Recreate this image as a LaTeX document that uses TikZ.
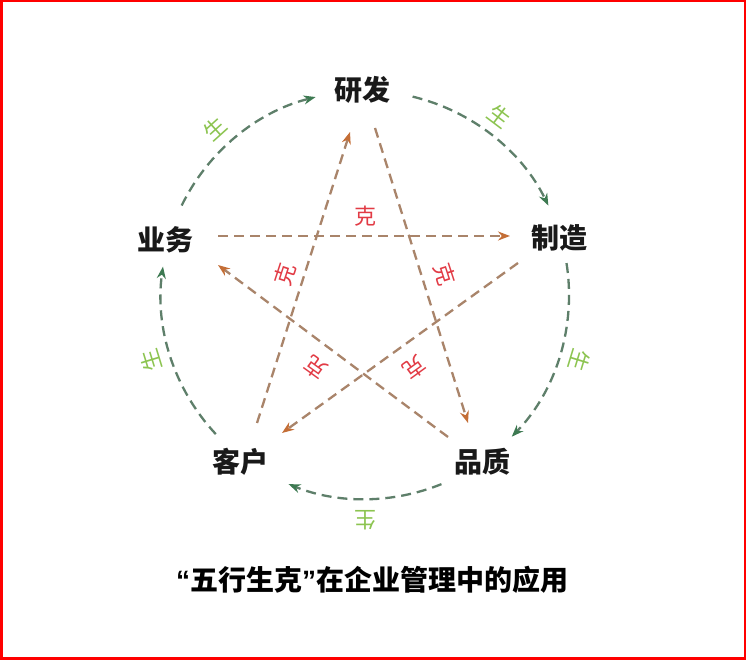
\documentclass[tikz,border=0pt]{standalone}
\usepackage{fontspec}
\setmainfont{Noto Sans CJK SC}
\newfontfamily\latinq{Liberation Sans}
\usetikzlibrary{arrows.meta}
\definecolor{shengline}{HTML}{5E7F6A}
\definecolor{shengtip}{HTML}{3E7A52}
\definecolor{shengtxt}{HTML}{8CC450}
\definecolor{keline}{HTML}{A9846A}
\definecolor{ketip}{HTML}{C46E36}
\definecolor{ketxt}{HTML}{E23B45}
\tikzset{
  lab/.style={font=\fontsize{28}{32}\selectfont\bfseries, inner sep=1pt, text=black!90},
  shengarc/.style={draw=shengline, line width=2.3pt, dash pattern=on 10pt off 6pt,
    -{Stealth[length=12pt,width=9pt,color=shengtip]}},
  keline/.style={draw=keline, line width=2.3pt, dash pattern=on 10pt off 6pt,
    -{Stealth[length=12pt,width=9pt,color=ketip]}},
  shengtxt/.style={font=\fontsize{22}{24}\selectfont, text=shengtxt, inner sep=0pt},
  ketxt/.style={font=\fontsize{22}{24}\selectfont, text=ketxt, inner sep=0pt},
  titletxt/.style={font=\fontsize{28}{32}\selectfont\bfseries, text=black, inner sep=0pt}
}
\begin{document}
\begin{tikzpicture}[x=1pt,y=1pt]
\useasboundingbox (0,0) rectangle (746,660);
\fill[white] (0,0) rectangle (746,660);
\draw[red, line width=2.5pt] (1.25,1.25) rectangle (744.75,658.75);

% centres
\coordinate (C) at (365,365);
\coordinate (K) at (365,360);

% labels
\node[lab] (yf) at (362,570) {研发};
\node[lab] (zz) at (559,422) {制造};
\node[lab] (pz) at (482,198) {品质};
\node[lab] (kh) at (240,198) {客户};
\node[lab] (yw) at (165,420) {业务};

% sheng arcs (clockwise)
\path (C) ++(154:204) coordinate (a1);
\path (C) ++(76.5:204) coordinate (a2);
\path (C) ++(9:204) coordinate (a3);
\path (C) ++(-68:204) coordinate (a4);
\path (C) ++(-137:204) coordinate (a5);
\draw[shengarc] (a1) arc[start angle=154, end angle=104, radius=204];
\draw[shengarc] (a2) arc[start angle=76.5, end angle=26, radius=204];
\draw[shengarc] (a3) arc[start angle=9, end angle=-44, radius=204];
\draw[shengarc] (a4) arc[start angle=-68, end angle=-112, radius=204];
\draw[shengarc] (a5) arc[start angle=-137, end angle=-188, radius=204];

% sheng labels
\node[shengtxt, rotate=42]  (s1) at ([shift={(132:224)}]C) {生};
\node[shengtxt, rotate=-37] (s2) at ([shift={(53:224)}]C) {生};
\node[shengtxt, rotate=-107] (s3) at ([shift={(-17:224)}]C) {生};
\node[shengtxt, rotate=180] (s4) at ([shift={(-90:225)}]C) {生};
\node[shengtxt, rotate=107] (s5) at ([shift={(197:224)}]C) {生};

% ke lines (star)
\coordinate (k1s) at (218,424);  \coordinate (k1e) at (510,424);
\coordinate (k2s) at (375,532);  \coordinate (k2e) at (468,237);
\coordinate (k3s) at (257,237);  \coordinate (k3e) at (350,528);
\coordinate (k4s) at (518,397);  \coordinate (k4e) at (282,227);
\coordinate (k5s) at (448,223);  \coordinate (k5e) at (218,395);
\draw[keline] (k1s) -- (k1e);
\draw[keline] (k2s) -- (k2e);
\draw[keline] (k3s) -- (k3e);
\draw[keline] (k4s) -- (k4e);
\draw[keline] (k5s) -- (k5e);

% ke labels
\node[ketxt] (t1) at ([shift={(90:84)}]K) {克};
\node[ketxt, rotate=-72] (t2) at ([shift={(18:84)}]K) {克};
\node[ketxt, rotate=-144] (t3) at ([shift={(-54:84)}]K) {克};
\node[ketxt, rotate=144] (t4) at ([shift={(-126:84)}]K) {克};
\node[ketxt, rotate=72] (t5) at ([shift={(162:84)}]K) {克};

% title
\node[titletxt] (title) at (372,80) {{\latinq “}五行生克{\latinq ”}在企业管理中的应用};
\end{tikzpicture}
\end{document}
